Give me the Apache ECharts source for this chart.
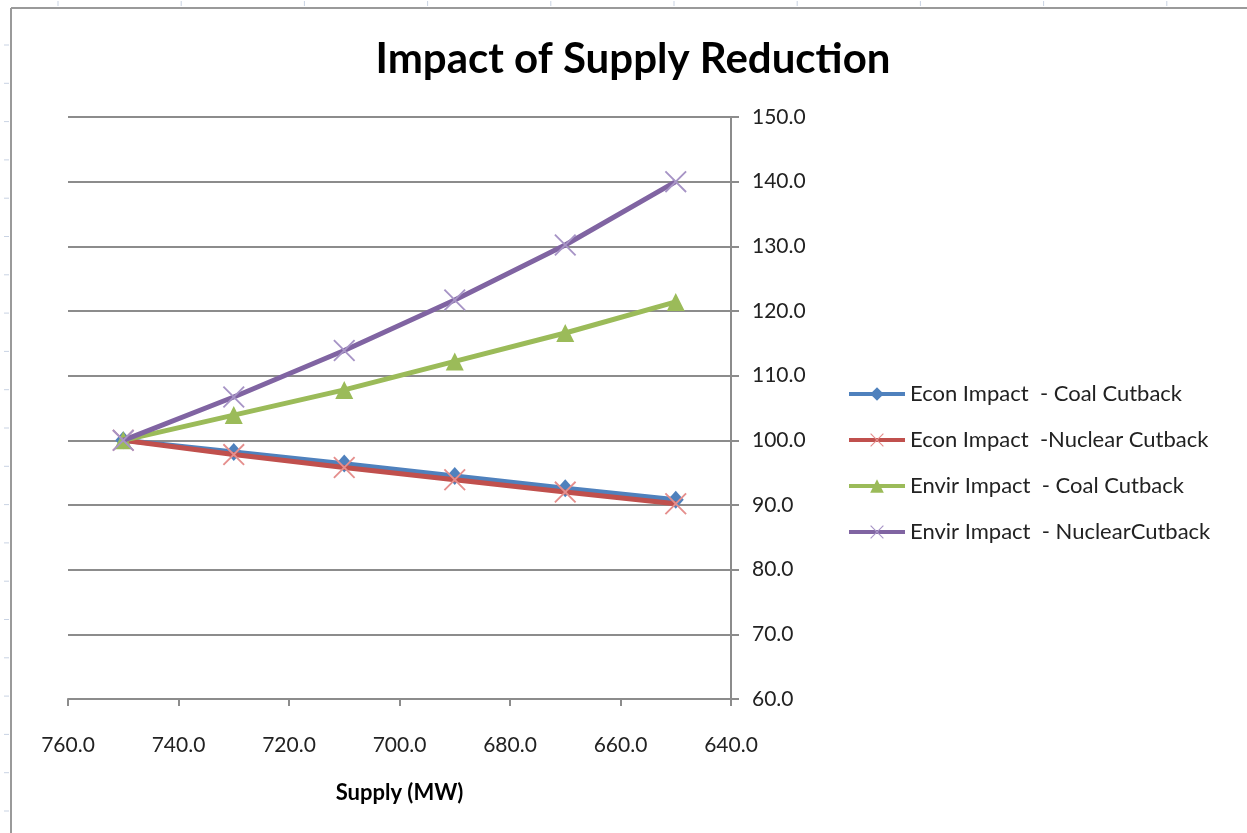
<!DOCTYPE html>
<html>
<head>
<meta charset="utf-8">
<script src="https://cdn.jsdelivr.net/npm/echarts@6/dist/echarts.min.js"></script>
<style>
  html, body { margin: 0; padding: 0; background: #ffffff; }
  #chart { width: 1247px; height: 833px; }
</style>
</head>
<body>
<div id="chart"></div>
<script>
// Supply levels (MW) and impact indices for each cutback scenario
const supply = [750, 730, 710, 690, 670, 650];
const econCoal = [100, 98.2, 96.4, 94.5, 92.6, 90.8];
const econNuclear = [100, 97.8, 95.8, 93.9, 92.0, 90.2];
const envirCoal = [100, 103.9, 107.8, 112.2, 116.6, 121.4];
const envirNuclear = [100, 106.7, 113.9, 121.7, 130.2, 140.0];

const seriesNames = [
  'Econ Impact  - Coal Cutback',
  'Econ Impact  -Nuclear Cutback',
  'Envir Impact  - Coal Cutback',
  'Envir Impact  - NuclearCutback'
];

const FONT = 'Lato, "Open Sans", sans-serif';
// thin "x" marker built from two narrow diagonal bars
const CROSS = 'path://M0,0.6L0.6,0L10,9.4L9.4,10ZM9.4,0L10,0.6L0.6,10L0,9.4Z';

function pairs(ys) { return supply.map((x, i) => [x, ys[i]]); }

const chart = echarts.init(document.getElementById('chart'), null, { renderer: 'canvas' });

// spreadsheet frame around the chart object
const frame = [];
frame.push({ type: 'line', shape: { x1: 11, y1: 8, x2: 1247, y2: 8 }, style: { stroke: '#9a9a9a', lineWidth: 2 } });
frame.push({ type: 'line', shape: { x1: 11, y1: 8, x2: 11, y2: 833 }, style: { stroke: '#9a9a9a', lineWidth: 2 } });
for (let x = 58; x < 1247; x += 123.2) {
  frame.push({ type: 'line', shape: { x1: x, y1: 1, x2: x, y2: 6 }, style: { stroke: '#c9d3e3', lineWidth: 1 } });
}
for (let y = 45; y < 833; y += 38.3) {
  frame.push({ type: 'line', shape: { x1: 4, y1: y, x2: 9, y2: y }, style: { stroke: '#c9d3e3', lineWidth: 1 } });
}

chart.setOption({
  animation: false,
  backgroundColor: '#ffffff',
  title: {
    text: 'Impact of Supply Reduction',
    left: 628,
    textAlign: 'center',
    top: 33,
    textStyle: { fontFamily: FONT, fontWeight: 'bold', fontSize: 42, color: '#000' }
  },
  legend: {
    orient: 'vertical',
    left: 842,
    top: 378,
    itemWidth: 56,
    itemHeight: 17,
    itemGap: 24,
    lineStyle: { width: 4 },
    textStyle: { fontFamily: FONT, fontSize: 22, color: '#222' },
    data: seriesNames
  },
  grid: { left: 68, right: 516, top: 117, bottom: 134, containLabel: false },
  xAxis: {
    type: 'value',
    min: 640,
    max: 760,
    interval: 20,
    inverse: true,
    name: 'Supply (MW)',
    nameLocation: 'middle',
    nameGap: 83,
    nameTextStyle: { fontFamily: FONT, fontWeight: 'bold', fontSize: 22, color: '#000' },
    axisLine: { show: true, onZero: false, lineStyle: { color: '#8c8c8c', width: 2 } },
    axisTick: { show: true, inside: false, length: 7, lineStyle: { color: '#8c8c8c', width: 2 } },
    axisLabel: { margin: 36, fontFamily: FONT, fontSize: 21, color: '#222', formatter: v => v.toFixed(1) },
    splitLine: { show: false }
  },
  yAxis: {
    type: 'value',
    position: 'right',
    min: 60,
    max: 150,
    interval: 10,
    axisLine: { show: true, lineStyle: { color: '#8c8c8c', width: 2 } },
    axisTick: { show: true, inside: false, length: 8, lineStyle: { color: '#8c8c8c', width: 2 } },
    axisLabel: { margin: 21, fontFamily: FONT, fontSize: 21, color: '#222', formatter: v => v.toFixed(1) },
    splitLine: { show: true, lineStyle: { color: '#8c8c8c', width: 2 } }
  },
  series: [
    {
      name: seriesNames[0], type: 'line', data: pairs(econCoal),
      symbol: 'diamond', symbolSize: [16, 18],
      itemStyle: { color: '#4F81BD' },
      lineStyle: { color: '#4F81BD', width: 5 }, z: 2
    },
    {
      name: seriesNames[1], type: 'line', data: pairs(econNuclear),
      symbol: CROSS, symbolSize: 22,
      itemStyle: { color: '#e58f8d' },
      lineStyle: { color: '#C0504D', width: 5 }, z: 3
    },
    {
      name: seriesNames[2], type: 'line', data: pairs(envirCoal),
      symbol: 'triangle', symbolSize: 18,
      itemStyle: { color: '#9BBB59' },
      lineStyle: { color: '#9BBB59', width: 5 }, z: 4
    },
    {
      name: seriesNames[3], type: 'line', data: pairs(envirNuclear),
      symbol: CROSS, symbolSize: 22,
      itemStyle: { color: '#a794c6' },
      lineStyle: { color: '#8064A2', width: 5 }, z: 5
    }
  ],
  graphic: frame
});
</script>
</body>
</html>
